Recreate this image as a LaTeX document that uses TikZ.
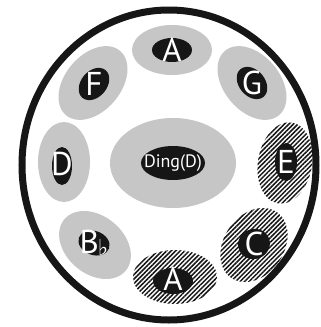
\documentclass[tikz,border=0pt]{standalone}
\usepackage{fontspec}
\setmainfont{PT Sans}
\newfontfamily\symfont{DejaVu Sans}
\usetikzlibrary{patterns.meta}
\definecolor{lgray}{RGB}{198,198,198}
\definecolor{dark}{RGB}{22,22,22}
\tikzset{
  grayell/.style={fill=lgray},
  hatchell/.style={fill=white, pattern={Lines[angle=45,distance=3.2pt,line width=1.5pt]}, pattern color=dark},
  blackell/.style={fill=dark},
  letter/.style={text=white, font=\fontsize{33}{33}\selectfont, inner sep=0pt},
  smalllabel/.style={text=white, font=\fontsize{18}{18}\selectfont, inner sep=0pt}
}
\begin{document}
\begin{tikzpicture}[x=1pt,y=-1pt]
\useasboundingbox[fill=white] (0,0) rectangle (321,327);
% outer ring
\draw[line width=7pt, dark] (169,165) ellipse (147 and 155);
% centre
\fill[grayell] (173,163) ellipse (63 and 45);
\fill[blackell] (173,163) ellipse (32 and 17);
\node[smalllabel] (ding) at (173,163) {Ding(D)};
% top A
\fill[grayell] (172,50) ellipse (40 and 25);
\fill[blackell] (172,50) ellipse (20 and 12);
\node[letter] (atop) at (172,50) {A};
% F
\fill[grayell, shift={(93,83)}, rotate=50] (0,0) ellipse (42 and 28);
\fill[blackell, shift={(94,84)}, rotate=50] (0,0) ellipse (18 and 13);
\node[letter] (f) at (94,84) {F};
% G
\fill[grayell, shift={(252,83)}, rotate=-50] (0,0) ellipse (42 and 28);
\fill[blackell, shift={(252,83)}, rotate=-50] (0,0) ellipse (18 and 13);
\node[letter] (g) at (252,83) {G};
% D
\fill[grayell] (64,162) ellipse (26 and 40);
\fill[blackell] (62,166) ellipse (10 and 19);
\node[letter] (d) at (62,164) {D};
% E
\fill[hatchell, shift={(285,163)}, rotate=-10] (0,0) ellipse (27 and 41);
\fill[blackell] (286,162) ellipse (11 and 19);
\node[letter] (e) at (286,162) {E};
% C
\fill[hatchell, shift={(254,245)}, rotate=55] (0,0) ellipse (40 and 30);
\fill[blackell, shift={(254,244)}, rotate=20] (0,0) ellipse (16 and 15);
\node[letter] (c) at (254,244) {C};
% bottom A
\fill[hatchell] (175,277) ellipse (42 and 27);
\fill[blackell] (173,281) ellipse (20 and 13);
\node[letter] (abot) at (173,279) {A};
% B flat
\fill[grayell, shift={(95,245)}, rotate=-40] (0,0) ellipse (40 and 29);
\fill[blackell, shift={(94,243)}, rotate=-20] (0,0) ellipse (16 and 12);
\node[letter] (bflat) at (94,243) {B\kern-1pt\raisebox{-2pt}{\symfont\fontsize{22}{22}\selectfont ♭}};
\end{tikzpicture}
\end{document}
